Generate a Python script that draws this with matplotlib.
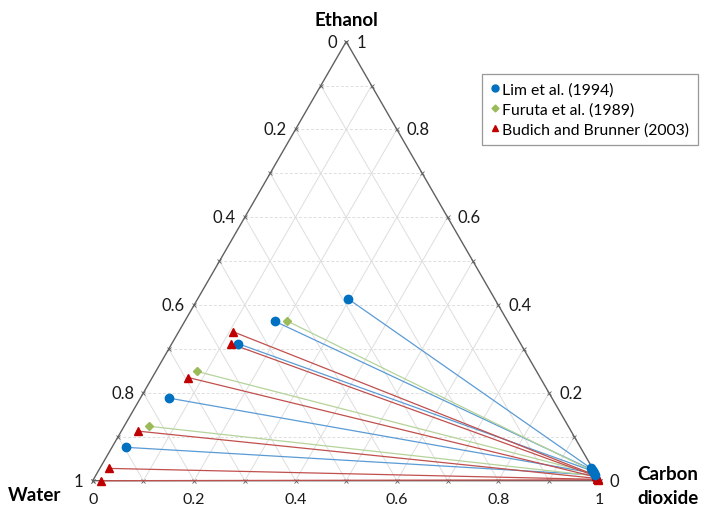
import numpy as np
import matplotlib
matplotlib.use("Agg")
import matplotlib.pyplot as plt
from matplotlib.lines import Line2D

# ---- data: ternary compositions (mass fractions); water = 1 - CO2 - ethanol ----
lim_liq_co2 = [0.297, 0.178, 0.131, 0.057, 0.028]
lim_liq_eth = [0.414, 0.363, 0.312, 0.188, 0.076]
lim_vap_co2 = [0.969, 0.972, 0.975, 0.980, 0.984]
lim_vap_eth = [0.028, 0.025, 0.022, 0.017, 0.013]

fur_liq_co2 = [0.201, 0.081, 0.049]
fur_liq_eth = [0.364, 0.249, 0.124]
fur_vap_co2 = [0.975, 0.981, 0.986]
fur_vap_eth = [0.022, 0.016, 0.011]

bud_liq_co2 = [0.108, 0.116, 0.071, 0.032, 0.019, 0.016]
bud_liq_eth = [0.339, 0.312, 0.235, 0.113, 0.028, 0.000]
bud_vap_co2 = [0.986, 0.988, 0.990, 0.993, 0.995, 0.996]
bud_vap_eth = [0.012, 0.010, 0.008, 0.005, 0.003, 0.002]

series_names = ["Lim et al. (1994)", "Furuta et al. (1989)", "Budich and Brunner (2003)"]
tick_values = [0, 0.2, 0.4, 0.6, 0.8, 1]
tick_labels = ["0", "0.2", "0.4", "0.6", "0.8", "1"]
grid_values = np.round(np.arange(0.1, 1.0, 0.1), 1)
all_ticks = np.round(np.arange(0, 1.01, 0.1), 1)

SQ = np.sqrt(3) / 2


def tern(c, e):
    c = np.asarray(c, float)
    e = np.asarray(e, float)
    return c + e / 2, e * SQ


plt.rcParams['font.family'] = ['Lato', 'DejaVu Sans']
fig = plt.figure(figsize=(7.04, 5.10), dpi=100)
ax = fig.add_axes([0, 0, 1, 1])
L = 507.0
x0, y0 = 92.7, 481.7
ax.set_xlim(-x0 / L, (704 - x0) / L)
ax.set_ylim(-(510 - y0) / L, y0 / L)
ax.axis('off')

gridc = '#dedede'
# grid lines
for v in grid_values:
    # constant ethanol (horizontal)
    xs, ys = tern([0, 1 - v], [v, v])
    ax.plot(xs, ys, color=gridc, lw=0.7, ls=(0, (3, 2)), zorder=1)
    # constant CO2
    xs, ys = tern([v, v], [0, 1 - v])
    ax.plot(xs, ys, color=gridc, lw=0.7, zorder=1)
    # constant water
    xs, ys = tern([1 - v, 0], [0, 1 - v])
    ax.plot(xs, ys, color=gridc, lw=0.7, zorder=1)

# triangle edges
xs, ys = tern([0, 1, 0, 0], [0, 0, 1, 0])
ax.plot(xs, ys, color='#606060', lw=1.0, zorder=2)

# tick crosses on edges
for v in all_ticks:
    for (c, e) in [(v, 0), (0, 1 - v), (1 - v, v)]:
        px, py = tern(c, e)
        ax.plot(px, py, marker='x', ms=3.5, mew=0.6, color='#606060', zorder=3)

tfs = 12
# left edge labels (water)
for v, lab in zip(tick_values, tick_labels):
    px, py = tern(0, 1 - v)
    ax.annotate(lab, (px, py), xytext=(-9, 0), textcoords='offset pixels',
                ha='right', va='center', fontsize=tfs, color='#1a1a1a')
# right edge labels (ethanol)
for v, lab in zip(tick_values, tick_labels):
    px, py = tern(1 - v, v)
    ax.annotate(lab, (px, py), xytext=(10, 0), textcoords='offset pixels',
                ha='left', va='center', fontsize=tfs, color='#1a1a1a')
# bottom labels (CO2)
for v, lab in zip(tick_values, tick_labels):
    px, py = tern(v, 0)
    ax.annotate(lab, (px, py), xytext=(0, -18), textcoords='offset pixels',
                ha='center', va='center', fontsize=11.5, color='#1a1a1a')

# vertex names
vx, vy = tern(0, 1)
ax.annotate('Ethanol', (vx, vy), xytext=(0, 22), textcoords='offset pixels',
            ha='center', va='center', fontsize=13.5, fontweight='bold')
vx, vy = tern(0, 0)
ax.annotate('Water', (vx, vy), xytext=(-58, -14), textcoords='offset pixels',
            ha='center', va='center', fontsize=13.5, fontweight='bold')
vx, vy = tern(1, 0)
ax.annotate('Carbon', (vx, vy), xytext=(68, 7), textcoords='offset pixels',
            ha='center', va='center', fontsize=13.5, fontweight='bold')
ax.annotate('dioxide', (vx, vy), xytext=(68, -17), textcoords='offset pixels',
            ha='center', va='center', fontsize=13.5, fontweight='bold')

styles = [
    (lim_liq_co2, lim_liq_eth, lim_vap_co2, lim_vap_eth, '#0070c0', '#5b9bd5', 'o', 6.0, 7),
    (fur_liq_co2, fur_liq_eth, fur_vap_co2, fur_vap_eth, '#9bbb59', '#b5d39a', 'D', 4.5, 5),
    (bud_liq_co2, bud_liq_eth, bud_vap_co2, bud_vap_eth, '#c00000', '#c0504d', '^', 6.0, 6),
]
handles = []
for (lc, le, vc, ve, mc, lcol, mk, ms, vz), name in zip(styles, series_names):
    for a, b, c, d in zip(lc, le, vc, ve):
        xs, ys = tern([a, c], [b, d])
        ax.plot(xs, ys, color=lcol, lw=0.9, zorder=4)
    xs, ys = tern(lc, le)
    ax.plot(xs, ys, ls='none', marker=mk, ms=ms, color=mc, mec=mc, zorder=5)
    xs, ys = tern(vc, ve)
    ax.plot(xs, ys, ls='none', marker=mk, ms=ms, color=mc, mec=mc, zorder=vz)
    handles.append(Line2D([], [], ls='none', marker=mk, ms=ms - 1, color=mc, label=name))

leg = fig.legend(handles=handles, loc='upper right',
                 bbox_to_anchor=(698 / 704, 1 - 75 / 510), bbox_transform=fig.transFigure,
                 frameon=True, fancybox=False, edgecolor='#7f7f7f', fontsize=11.3,
                 handlelength=0.55, handletextpad=0.2, borderpad=0.55,
                 labelspacing=0.35, borderaxespad=0)
leg.get_frame().set_linewidth(0.9)

fig.savefig('out.png', dpi=100)
